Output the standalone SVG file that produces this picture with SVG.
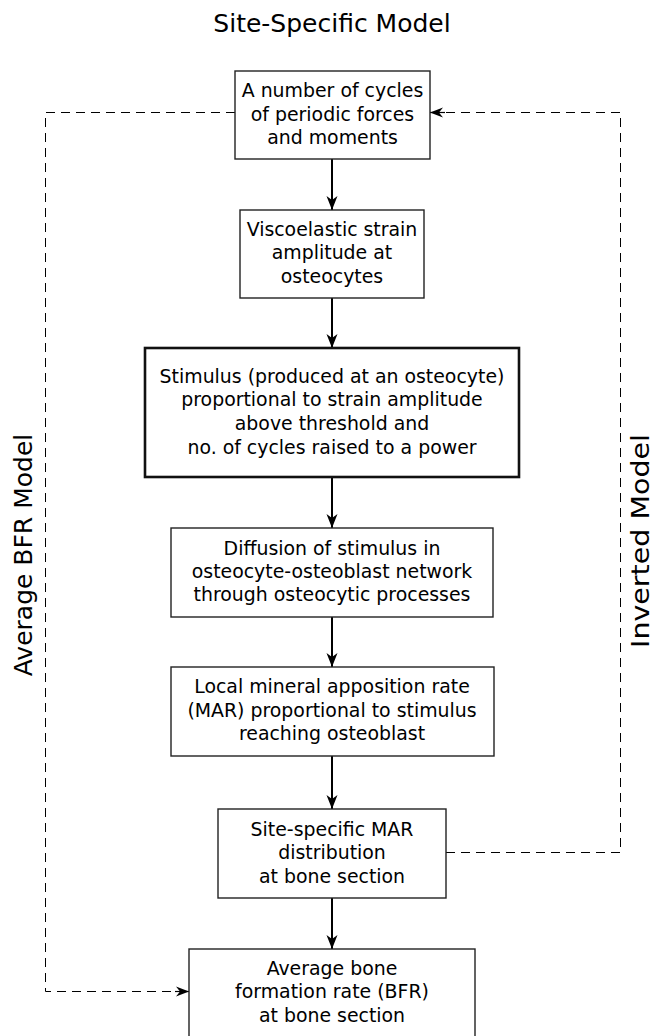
<svg xmlns="http://www.w3.org/2000/svg" width="655" height="1036" viewBox="0 0 655 1036">
<defs>
<style>
text{font-family:"DejaVu Sans","Noto Sans",sans-serif;fill:#000;}
.t{font-size:18.9px;text-anchor:middle;}
.big{font-size:25px;text-anchor:middle;}
.box{fill:#fff;stroke:#222;stroke-width:1.4;}
.thick{fill:#fff;stroke:#111;stroke-width:2.6;}
.arr{stroke:#000;stroke-width:2;fill:none;marker-end:url(#ah);}
.dash{stroke:#000;stroke-width:1;fill:none;stroke-dasharray:9,6;}
</style>
<marker id="ah" markerUnits="userSpaceOnUse" markerWidth="20" markerHeight="16" viewBox="-15 -8 16 16" refX="0" refY="0" orient="auto">
<path d="M0,0 L-14,-5.5 L-10,0 L-14,5.5 Z" fill="#000"/>
</marker>
<marker id="ahd" markerUnits="userSpaceOnUse" markerWidth="20" markerHeight="16" viewBox="-15 -8 16 16" refX="0" refY="0" orient="auto">
<path d="M0,0 L-13,-5 L-9,0 L-13,5 Z" fill="#000"/>
</marker>
</defs>
<rect width="655" height="1036" fill="#fff"/>
<text class="big" x="332" y="32">Site-Specific Model</text>
<text class="big" transform="translate(32,555) rotate(-90)">Average BFR Model</text>
<text class="big" style="font-size:25.5px" transform="translate(649,541) rotate(-90)" textLength="214" lengthAdjust="spacingAndGlyphs">Inverted Model</text>

<g id="connectors">
<path class="dash" d="M235,112.5 H45.5 V991.5 H176"/>
<path d="M175,991.5 H189" stroke="#000" stroke-width="1.2" marker-end="url(#ahd)"/>
<path class="dash" d="M446,852.5 H620.5 V112.5 H444"/>
<path d="M445,112.5 H430" stroke="#000" stroke-width="1.2" marker-end="url(#ahd)"/>
<line class="arr" x1="332" y1="159" x2="332" y2="210"/>
<line class="arr" x1="332" y1="298" x2="332" y2="348"/>
<line class="arr" x1="332" y1="478" x2="332" y2="528"/>
<line class="arr" x1="332" y1="617" x2="332" y2="667"/>
<line class="arr" x1="332" y1="756" x2="332" y2="809"/>
<line class="arr" x1="332" y1="898" x2="332" y2="949"/>
</g>

<g id="n1">
<rect class="box" x="235" y="71" width="195" height="88"/>
<text class="t" x="332.5" y="97">A number of cycles</text>
<text class="t" x="332.5" y="121">of periodic forces</text>
<text class="t" x="332.5" y="144">and moments</text>
</g>
<g id="n2">
<rect class="box" x="240" y="210" width="184" height="88"/>
<text class="t" x="332" y="236">Viscoelastic strain</text>
<text class="t" x="332" y="259">amplitude at</text>
<text class="t" x="332" y="283">osteocytes</text>
</g>
<g id="n3">
<rect class="thick" x="145" y="348" width="374" height="129"/>
<text class="t" x="332" y="383">Stimulus (produced at an osteocyte)</text>
<text class="t" x="332" y="406">proportional to strain amplitude</text>
<text class="t" x="332" y="430">above threshold and</text>
<text class="t" x="332" y="454">no. of cycles raised to a power</text>
</g>
<g id="n4">
<rect class="box" x="171" y="528" width="322" height="89"/>
<text class="t" x="332" y="555">Diffusion of stimulus in</text>
<text class="t" x="332" y="578">osteocyte-osteoblast network</text>
<text class="t" x="332" y="601">through osteocytic processes</text>
</g>
<g id="n5">
<rect class="box" x="171" y="667" width="323" height="89"/>
<text class="t" x="332" y="693">Local mineral apposition rate</text>
<text class="t" x="332" y="717">(MAR) proportional to stimulus</text>
<text class="t" x="332" y="740">reaching osteoblast</text>
</g>
<g id="n6">
<rect class="box" x="218" y="809" width="228" height="89"/>
<text class="t" x="332" y="836">Site-specific MAR</text>
<text class="t" x="332" y="859">distribution</text>
<text class="t" x="332" y="883">at bone section</text>
</g>
<g id="n7">
<rect class="box" x="189" y="949" width="286" height="95"/>
<text class="t" x="332" y="975">Average bone</text>
<text class="t" x="332" y="998">formation rate (BFR)</text>
<text class="t" x="332" y="1022">at bone section</text>
</g>
</svg>
